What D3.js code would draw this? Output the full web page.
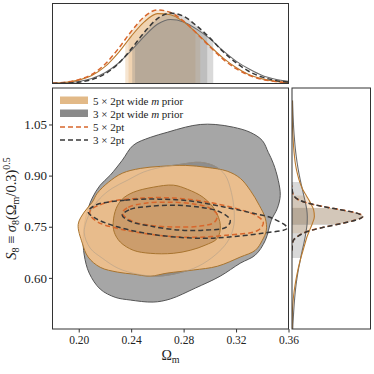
<!DOCTYPE html>
<html>
<head>
<meta charset="utf-8">
<script src="https://cdn.jsdelivr.net/npm/d3@7"></script>
<style>
  html, body { margin: 0; padding: 0; background: #ffffff; }
  svg { display: block; }
</style>
</head>
<body>
<div id="chart"></div>
<script>
// Corner plot: Omega_m vs S8 for 5x2pt / 3x2pt, with and without wide m prior.

// ---- data ----
var seriesNames = ["5 \u00d7 2pt wide m prior", "3 \u00d7 2pt wide m prior", "5 \u00d7 2pt", "3 \u00d7 2pt"];

var xTicks = [0.20, 0.24, 0.28, 0.32, 0.36];
var yTicks = [0.60, 0.75, 0.90, 1.05];

// marginal of Omega_m (top panel), arbitrary units
var omGrid = [0.18, 0.19, 0.20, 0.21, 0.22, 0.23, 0.24, 0.25, 0.26, 0.27, 0.28, 0.29, 0.30, 0.31, 0.32, 0.33, 0.34, 0.35, 0.36];
var om5x2Wide = [0.004, 0.015, 0.042, 0.10, 0.21, 0.38, 0.59, 0.77, 0.874, 0.86, 0.77, 0.63, 0.47, 0.32, 0.20, 0.11, 0.058, 0.027, 0.012];
var om3x2Wide = [0.003, 0.009, 0.025, 0.062, 0.134, 0.25, 0.41, 0.59, 0.74, 0.80, 0.77, 0.68, 0.56, 0.41, 0.28, 0.18, 0.10, 0.054, 0.026];
var om5x2 = [0.005, 0.016, 0.047, 0.115, 0.24, 0.43, 0.65, 0.835, 0.92, 0.887, 0.78, 0.625, 0.46, 0.305, 0.186, 0.103, 0.052, 0.024, 0.010];
var om3x2 = [0.001, 0.005, 0.017, 0.049, 0.12, 0.245, 0.43, 0.64, 0.81, 0.88, 0.84, 0.72, 0.57, 0.40, 0.26, 0.15, 0.08, 0.039, 0.017];

var omBand5x2Wide = [0.2355, 0.2927];
var omBand3x2Wide = [0.2408, 0.3026];
var omBand5x2 = [0.238, 0.289];
var omBand3x2 = [0.243, 0.298];

// marginal of S8 (right panel)
var s8GridNarrow = [0.68, 0.69, 0.70, 0.71, 0.72, 0.73, 0.74, 0.75, 0.76, 0.77, 0.78, 0.79, 0.80, 0.81, 0.82, 0.83, 0.84, 0.85, 0.86, 0.87];
var s85x2 = [0.000, 0.001, 0.005, 0.016, 0.06, 0.13, 0.25, 0.43, 0.64, 0.82, 0.905, 0.83, 0.62, 0.38, 0.19, 0.076, 0.025, 0.007, 0.001, 0.000];
var s83x2 = [0.000, 0.002, 0.006, 0.018, 0.062, 0.135, 0.255, 0.435, 0.645, 0.82, 0.90, 0.825, 0.615, 0.38, 0.19, 0.078, 0.026, 0.008, 0.002, 0.000];

var s8GridWide = [0.44, 0.46, 0.48, 0.50, 0.52, 0.54, 0.56, 0.58, 0.60, 0.62, 0.64, 0.66, 0.68, 0.70, 0.72, 0.74, 0.76, 0.78, 0.80, 0.82,
                  0.84, 0.86, 0.88, 0.90, 0.92, 0.94, 0.96, 0.98, 1.00, 1.02, 1.04, 1.06, 1.08, 1.10, 1.12];
var s85x2Wide = [0.001, 0.002, 0.003, 0.005, 0.010, 0.017, 0.027, 0.040, 0.055, 0.072, 0.092, 0.115, 0.140, 0.165, 0.190, 0.225, 0.260, 0.285, 0.275, 0.235,
                 0.185, 0.135, 0.100, 0.075, 0.055, 0.040, 0.030, 0.022, 0.016, 0.011, 0.007, 0.004, 0.003, 0.002, 0.001];
var s83x2Wide = [0.008, 0.011, 0.016, 0.021, 0.027, 0.034, 0.042, 0.052, 0.064, 0.078, 0.095, 0.112, 0.130, 0.150, 0.168, 0.182, 0.193, 0.195, 0.188, 0.172,
                 0.152, 0.132, 0.112, 0.094, 0.078, 0.064, 0.052, 0.042, 0.034, 0.027, 0.021, 0.017, 0.013, 0.010, 0.007];

var s8Band5x2Wide = [0.731, 0.842];
var s8Band3x2Wide = [0.658, 0.881];
var s8Band5x2 = [0.757, 0.806];
var s8Band3x2 = [0.755, 0.805];

// 2D contours, [Omega_m, S8]
var c3x2WideOuter = [[0.2034, 0.719], [0.2057, 0.784], [0.2103, 0.834], [0.2164, 0.872], [0.2240, 0.901], [0.2332, 0.945], [0.2416, 0.989],
    [0.2545, 1.012], [0.2675, 1.027], [0.2813, 1.042], [0.2927, 1.050], [0.3041, 1.050], [0.3179, 1.042], [0.3308, 1.027], [0.3400, 1.003],
    [0.3446, 0.968], [0.3484, 0.936], [0.3522, 0.886], [0.3537, 0.842], [0.3515, 0.804], [0.3469, 0.769], [0.3423, 0.710], [0.3347, 0.667],
    [0.3232, 0.643], [0.3079, 0.605], [0.2889, 0.570], [0.2698, 0.538], [0.2568, 0.529], [0.2393, 0.535], [0.2278, 0.543], [0.2164, 0.567],
    [0.2080, 0.614], [0.2042, 0.667]];
var c3x2WideInner = [[0.2042, 0.734], [0.2088, 0.793], [0.2164, 0.834], [0.2256, 0.863], [0.2370, 0.886], [0.2492, 0.910], [0.2622, 0.924],
    [0.2774, 0.933], [0.2927, 0.939], [0.3041, 0.927], [0.3118, 0.901], [0.3164, 0.851], [0.3186, 0.793], [0.3179, 0.746], [0.3133, 0.705],
    [0.3041, 0.667], [0.2912, 0.634], [0.2759, 0.614], [0.2599, 0.605], [0.2446, 0.611], [0.2301, 0.628], [0.2179, 0.658], [0.2088, 0.687]];
var c5x2WideOuter = [[0.1996, 0.757], [0.2042, 0.793], [0.2103, 0.822], [0.2141, 0.848], [0.2225, 0.880], [0.2332, 0.907], [0.2469, 0.921],
    [0.2622, 0.927], [0.2813, 0.930], [0.2980, 0.924], [0.3133, 0.913], [0.3232, 0.892], [0.3308, 0.857], [0.3377, 0.813], [0.3423, 0.775],
    [0.3431, 0.740], [0.3400, 0.710], [0.3347, 0.681], [0.3232, 0.661], [0.3057, 0.634], [0.2874, 0.623], [0.2675, 0.614], [0.2545, 0.605],
    [0.2416, 0.611], [0.2294, 0.617], [0.2164, 0.631], [0.2072, 0.661], [0.2027, 0.702]];
var c5x2WideInner = [[0.2263, 0.763], [0.2286, 0.804], [0.2332, 0.831], [0.2416, 0.851], [0.2568, 0.866], [0.2721, 0.872], [0.2828, 0.860],
    [0.2950, 0.836], [0.3041, 0.798], [0.3080, 0.754], [0.3057, 0.716], [0.2965, 0.696], [0.2851, 0.681], [0.2721, 0.672], [0.2545, 0.672],
    [0.2416, 0.681], [0.2317, 0.705], [0.2271, 0.734]];
var c5x2Outer = [[0.2088, 0.798], [0.2225, 0.822], [0.2484, 0.834], [0.2736, 0.834], [0.2988, 0.822], [0.3194, 0.804], [0.3347, 0.784],
    [0.3408, 0.763], [0.3370, 0.740], [0.3118, 0.725], [0.2866, 0.719], [0.2607, 0.725], [0.2355, 0.740], [0.2149, 0.763], [0.2088, 0.784]];
var c5x2Inner = [[0.2332, 0.790], [0.2378, 0.807], [0.2507, 0.819], [0.2698, 0.822], [0.2889, 0.816], [0.3003, 0.804], [0.3057, 0.784],
    [0.3034, 0.763], [0.2927, 0.752], [0.2736, 0.749], [0.2545, 0.754], [0.2408, 0.766]];
var c3x2Outer = [[0.2126, 0.813], [0.2355, 0.828], [0.2607, 0.831], [0.2866, 0.825], [0.3118, 0.807], [0.3324, 0.790], [0.3476, 0.775],
    [0.3591, 0.746], [0.3400, 0.731], [0.3118, 0.719], [0.2942, 0.716], [0.2607, 0.725], [0.2301, 0.749], [0.2126, 0.775], [0.2072, 0.793]];
var c3x2Inner = [[0.2332, 0.784], [0.2393, 0.801], [0.2545, 0.810], [0.2736, 0.813], [0.2927, 0.807], [0.3080, 0.793], [0.3156, 0.769],
    [0.3126, 0.749], [0.2965, 0.740], [0.2774, 0.740], [0.2545, 0.752], [0.2393, 0.766]];

// ---- layout ----
var width = 374, height = 374;
var main = { left: 52.5, right: 288.5, top: 88, bottom: 329 };
var topP = { top: 3.5, bottom: 83.5 };
var rightP = { left: 292, right: 370.5 };

var orangeFill = "#efc08c", orangeInner = "#c99b69", orangeEdge = "#a8742f";
var grayFill = "#a6a6a6", grayInner = "#8e8e8e", grayEdge = "#555555";
var orangeLine = "#bb7a2e", grayLine = "#6c6c6c";
var orangeDash = "#d8672c", blackDash = "#383838";
var serif = "'Liberation Serif', 'DejaVu Serif', serif";

var svg = d3.select("#chart").append("svg")
    .attr("width", width)
    .attr("height", height);

svg.append("rect").attr("width", width).attr("height", height).attr("fill", "#ffffff");

var x = d3.scaleLinear().domain([0.18, 0.36]).range([main.left, main.right]);
var y = d3.scaleLinear().domain([0.45, 1.157]).range([main.bottom, main.top]);
var topY = d3.scaleLinear().domain([0, 1]).range([topP.bottom, topP.top]);
var rightX = d3.scaleLinear().domain([0, 1]).range([rightP.left, rightP.right]);

var defs = svg.append("defs");

function addClip(id, x0, y0, w, h) {
    defs.append("clipPath").attr("id", id)
        .append("rect").attr("x", x0).attr("y", y0).attr("width", w).attr("height", h);
    return "url(#" + id + ")";
}

// ---- main panel ----
var mainClip = addClip("clip-main", main.left, main.top, main.right - main.left, main.bottom - main.top);
var gMain = svg.append("g").attr("clip-path", mainClip);

var contourLine = d3.line()
    .x(function(d) { return x(d[0]); })
    .y(function(d) { return y(d[1]); })
    .curve(d3.curveCatmullRomClosed.alpha(0.5));

gMain.append("path").attr("d", contourLine(c3x2WideOuter))
    .attr("fill", grayFill).attr("stroke", grayEdge).attr("stroke-width", 1);
gMain.append("path").attr("d", contourLine(c3x2WideInner))
    .attr("fill", grayInner).attr("stroke", "#777777").attr("stroke-width", 1);
gMain.append("path").attr("d", contourLine(c5x2WideOuter))
    .attr("fill", orangeFill).attr("fill-opacity", 0.93)
    .attr("stroke", orangeEdge).attr("stroke-width", 1);
gMain.append("path").attr("d", contourLine(c5x2WideInner))
    .attr("fill", orangeInner).attr("fill-opacity", 0.93)
    .attr("stroke", orangeEdge).attr("stroke-width", 1);
// faint outline of the gray 1-sigma region showing through
gMain.append("path").attr("d", contourLine(c3x2WideInner))
    .attr("fill", "none").attr("stroke", "#b0a08c").attr("stroke-width", 0.8).attr("opacity", 0.7);

[[c5x2Outer, orangeDash], [c5x2Inner, orangeDash], [c3x2Outer, blackDash], [c3x2Inner, blackDash]].forEach(function(p) {
    gMain.append("path").attr("d", contourLine(p[0]))
        .attr("fill", "none")
        .attr("stroke", p[1])
        .attr("stroke-width", 1.5)
        .attr("stroke-dasharray", "5,3");
});

// frame
svg.append("rect")
    .attr("x", main.left).attr("y", main.top)
    .attr("width", main.right - main.left).attr("height", main.bottom - main.top)
    .attr("fill", "none").attr("stroke", "#333333").attr("stroke-width", 1);

// axes
var xAxis = svg.append("g")
    .attr("transform", "translate(0," + main.bottom + ")")
    .call(d3.axisBottom(x).tickValues(xTicks).tickFormat(d3.format(".2f")).tickSize(3.5).tickPadding(3));
var yAxis = svg.append("g")
    .attr("transform", "translate(" + main.left + ",0)")
    .call(d3.axisLeft(y).tickValues(yTicks).tickFormat(d3.format(".2f")).tickSize(3.5).tickPadding(2));

[xAxis, yAxis].forEach(function(a) {
    a.select(".domain").remove();
    a.selectAll(".tick line").attr("stroke", "#333333");
    a.selectAll("text").attr("fill", "#222222").attr("font-family", serif);
});
xAxis.selectAll("text").attr("font-size", "11.5px");
yAxis.selectAll("text").attr("font-size", "13px");

// axis labels
var xLabel = svg.append("text")
    .attr("x", (main.left + main.right) / 2)
    .attr("y", 360)
    .attr("text-anchor", "middle")
    .attr("font-family", serif)
    .attr("font-size", "14px")
    .attr("fill", "#222222");
xLabel.append("tspan").text("\u03a9");
xLabel.append("tspan").attr("font-size", "10px").attr("dy", 3).text("m");

var yLabel = svg.append("text")
    .attr("transform", "translate(16," + ((main.top + main.bottom) / 2) + ") rotate(-90)")
    .attr("text-anchor", "middle")
    .attr("font-family", serif)
    .attr("font-size", "14.5px")
    .attr("fill", "#222222");
yLabel.append("tspan").attr("font-style", "italic").text("S");
yLabel.append("tspan").attr("font-size", "10px").attr("dy", 3).text("8");
yLabel.append("tspan").attr("dy", -3).text(" \u2261 ");
yLabel.append("tspan").attr("font-style", "italic").text("\u03c3");
yLabel.append("tspan").attr("font-size", "10px").attr("dy", 3).text("8");
yLabel.append("tspan").attr("dy", -3).text("(\u03a9");
yLabel.append("tspan").attr("font-size", "10px").attr("dy", 3).text("m");
yLabel.append("tspan").attr("dy", -3).text("/0.3)");
yLabel.append("tspan").attr("font-size", "10px").attr("dy", -6).text("0.5");

// legend
var legendRows = [
    { type: "patch", color: "#e2b987", label: seriesNames[0] },
    { type: "patch", color: "#8a8a8a", label: seriesNames[1] },
    { type: "dash", color: orangeDash, label: seriesNames[2] },
    { type: "dash", color: blackDash, label: seriesNames[3] }
];
var legendY = [100.5, 113.5, 127, 140];

legendRows.forEach(function(r, i) {
    var cy = legendY[i];
    if (r.type === "patch") {
        svg.append("rect")
            .attr("x", 60).attr("y", cy - 4)
            .attr("width", 28).attr("height", 7.5)
            .attr("fill", r.color);
    } else {
        svg.append("line")
            .attr("x1", 60).attr("x2", 88)
            .attr("y1", cy).attr("y2", cy)
            .attr("stroke", r.color).attr("stroke-width", 1.5)
            .attr("stroke-dasharray", "5,3");
    }
    var t = svg.append("text")
        .attr("x", 93).attr("y", cy + 4)
        .attr("font-family", serif)
        .attr("font-size", "11px")
        .attr("fill", "#222222");
    var parts = r.label.split(" m ");
    if (parts.length === 2) {
        t.append("tspan").text(parts[0] + " ");
        t.append("tspan").attr("font-style", "italic").text("m");
        t.append("tspan").text(" " + parts[1]);
    } else {
        t.text(r.label);
    }
});

// ---- top marginal ----
var topArea = function(vals) {
    return d3.area()
        .x(function(d, i) { return x(omGrid[i]); })
        .y0(topP.bottom)
        .y1(function(d) { return topY(d); })
        .curve(d3.curveMonotoneX)(vals);
};
var topLine = function(vals) {
    return d3.line()
        .x(function(d, i) { return x(omGrid[i]); })
        .y(function(d) { return topY(d); })
        .curve(d3.curveMonotoneX)(vals);
};

var topFills = [
    [om5x2Wide, omBand5x2Wide, "#e0a868", "t1"],
    [om5x2, omBand5x2, "#e0a868", "t2"],
    [om3x2Wide, omBand3x2Wide, "#808080", "t3"],
    [om3x2, omBand3x2, "#808080", "t4"]
];
topFills.forEach(function(f) {
    var clip = addClip("clip-" + f[3], x(f[1][0]), topP.top, x(f[1][1]) - x(f[1][0]), topP.bottom - topP.top);
    svg.append("path").attr("d", topArea(f[0]))
        .attr("clip-path", clip)
        .attr("fill", f[2]).attr("fill-opacity", 0.3);
});

var topClip = addClip("clip-top", main.left, topP.top, main.right - main.left, topP.bottom - topP.top);
var gTop = svg.append("g").attr("clip-path", topClip);
gTop.append("path").attr("d", topLine(om3x2Wide)).attr("fill", "none").attr("stroke", grayLine).attr("stroke-width", 1.1);
gTop.append("path").attr("d", topLine(om5x2Wide)).attr("fill", "none").attr("stroke", orangeLine).attr("stroke-width", 1.1);
gTop.append("path").attr("d", topLine(om5x2)).attr("fill", "none").attr("stroke", orangeDash).attr("stroke-width", 1.5).attr("stroke-dasharray", "5,3");
gTop.append("path").attr("d", topLine(om3x2)).attr("fill", "none").attr("stroke", blackDash).attr("stroke-width", 1.5).attr("stroke-dasharray", "5,3");

svg.append("rect")
    .attr("x", main.left).attr("y", topP.top)
    .attr("width", main.right - main.left).attr("height", topP.bottom - topP.top)
    .attr("fill", "none").attr("stroke", "#333333").attr("stroke-width", 1);

// ---- right marginal ----
function rightArea(grid, vals) {
    return d3.area()
        .y(function(d, i) { return y(grid[i]); })
        .x0(rightP.left)
        .x1(function(d) { return rightX(d); })
        .curve(d3.curveMonotoneY)(vals);
}
function rightLine(grid, vals) {
    return d3.line()
        .y(function(d, i) { return y(grid[i]); })
        .x(function(d) { return rightX(d); })
        .curve(d3.curveMonotoneY)(vals);
}

var rightFills = [
    [s8GridWide, s85x2Wide, s8Band5x2Wide, "#e0a868", "r1"],
    [s8GridNarrow, s85x2, s8Band5x2, "#e0a868", "r2"],
    [s8GridWide, s83x2Wide, s8Band3x2Wide, "#808080", "r3"],
    [s8GridNarrow, s83x2, s8Band3x2, "#808080", "r4"]
];
rightFills.forEach(function(f) {
    var clip = addClip("clip-" + f[4], rightP.left, y(f[2][1]), rightP.right - rightP.left, y(f[2][0]) - y(f[2][1]));
    svg.append("path").attr("d", rightArea(f[0], f[1]))
        .attr("clip-path", clip)
        .attr("fill", f[3]).attr("fill-opacity", 0.3);
});

var rightClip = addClip("clip-right", rightP.left, main.top, rightP.right - rightP.left, main.bottom - main.top);
var gRight = svg.append("g").attr("clip-path", rightClip);
gRight.append("path").attr("d", rightLine(s8GridWide, s83x2Wide)).attr("fill", "none").attr("stroke", grayLine).attr("stroke-width", 1.1);
gRight.append("path").attr("d", rightLine(s8GridWide, s85x2Wide)).attr("fill", "none").attr("stroke", orangeLine).attr("stroke-width", 1.1);
gRight.append("path").attr("d", rightLine(s8GridNarrow, s85x2)).attr("fill", "none").attr("stroke", orangeDash).attr("stroke-width", 1.5).attr("stroke-dasharray", "5,3");
gRight.append("path").attr("d", rightLine(s8GridNarrow, s83x2)).attr("fill", "none").attr("stroke", blackDash).attr("stroke-width", 1.5).attr("stroke-dasharray", "5,3");

svg.append("rect")
    .attr("x", rightP.left).attr("y", main.top)
    .attr("width", rightP.right - rightP.left).attr("height", main.bottom - main.top)
    .attr("fill", "none").attr("stroke", "#333333").attr("stroke-width", 1);
</script>
</body>
</html>
